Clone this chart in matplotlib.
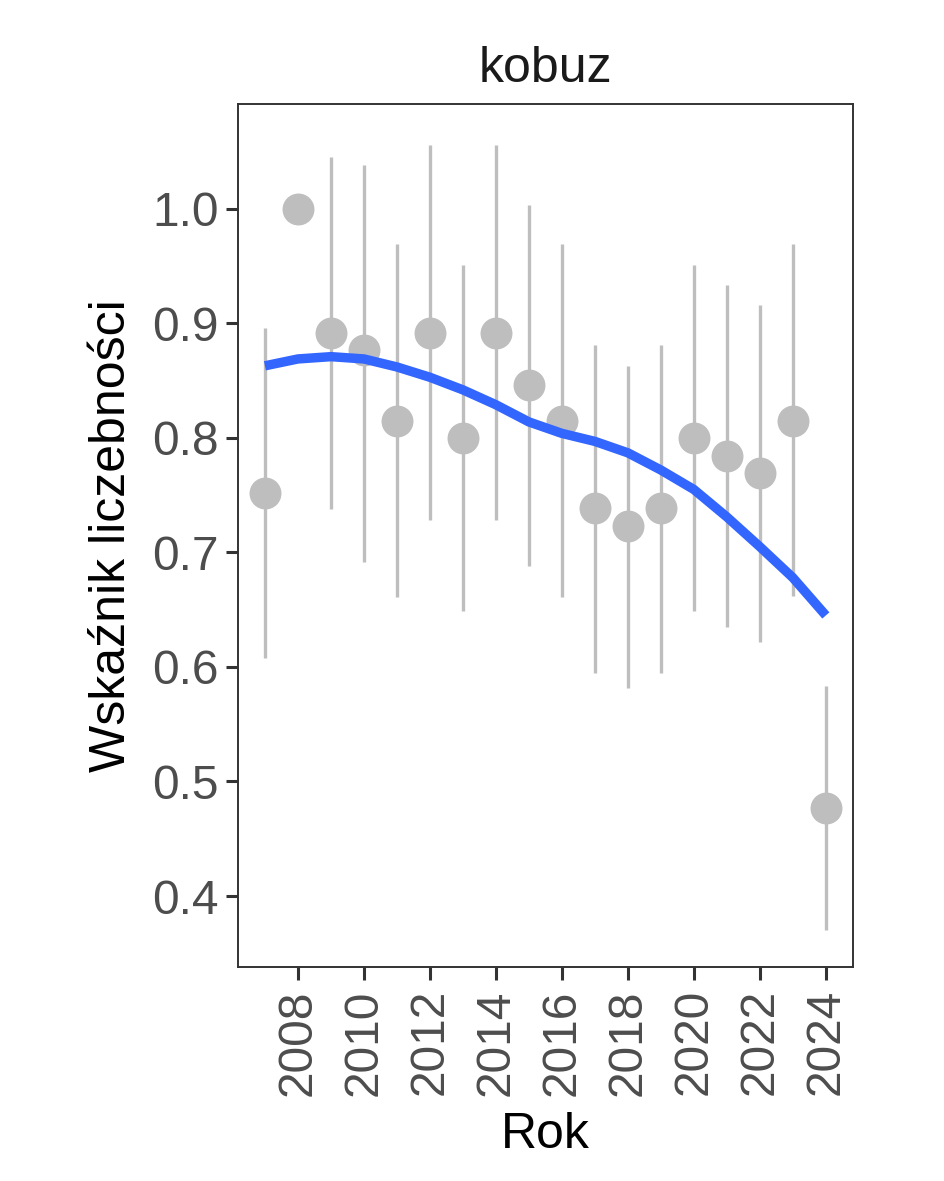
import matplotlib

matplotlib.use("Agg")
import matplotlib.pyplot as plt  # noqa: E402
import numpy as np  # noqa: E402

plt.rcParams["font.family"] = ["Liberation Sans", "DejaVu Sans"]

# yearly index with confidence limits (2008 is the reference year, no interval)
years = list(range(2007, 2025))
index = [0.752, 1.000, 0.892, 0.877, 0.815, 0.892, 0.800, 0.892, 0.846,
         0.815, 0.739, 0.723, 0.739, 0.800, 0.784, 0.769, 0.815, 0.477]
upper = [0.896, np.nan, 1.045, 1.038, 0.969, 1.056, 0.951, 1.056, 1.003,
         0.969, 0.881, 0.863, 0.881, 0.951, 0.934, 0.916, 0.969, 0.583]
lower = [0.608, np.nan, 0.738, 0.692, 0.661, 0.728, 0.649, 0.728, 0.688,
         0.661, 0.595, 0.582, 0.595, 0.649, 0.635, 0.622, 0.662, 0.370]
# smoothed trend
trend = [0.863, 0.869, 0.871, 0.869, 0.862, 0.853, 0.842, 0.829, 0.814,
         0.804, 0.797, 0.787, 0.772, 0.755, 0.731, 0.705, 0.678, 0.645]

fig = plt.figure(figsize=(9.44, 11.81), dpi=100)
ax = fig.add_axes([0.252, 0.1812, 0.6515, 0.7308])

ax.vlines(years, lower, upper, color="#bebebe", lw=2.4, zorder=1)
ax.plot(years, index, "o", color="#bebebe", ms=23, mec="none", zorder=2)
ax.plot(years, trend, color="#3366ff", lw=6.8, solid_capstyle="butt",
        solid_joinstyle="round", zorder=3)

ax.set_xlim(2006.18, 2024.82)
ax.set_ylim(0.338, 1.0917)
ax.set_xticks(range(2008, 2025, 2))
ax.set_yticks([0.4, 0.5, 0.6, 0.7, 0.8, 0.9, 1.0])
ax.set_yticklabels([f"{v:.1f}" for v in ax.get_yticks()])

for s in ax.spines.values():
    s.set_color("#333333")
    s.set_linewidth(1.4)
ax.tick_params(axis="both", colors="#333333", width=2.2, length=9,
               labelsize=34.5, labelcolor="#4d4d4d", pad=5)
ax.tick_params(axis="x", labelrotation=90, pad=7)

ax.set_xlabel("Rok", fontsize=36, color="black", labelpad=12)
ax.set_ylabel("Wskaźnik liczebności", fontsize=36, color="black", labelpad=12)
ax.set_title("kobuz", fontsize=36, color="#1a1a1a", pad=16)

fig.savefig("out.png", dpi=100)
